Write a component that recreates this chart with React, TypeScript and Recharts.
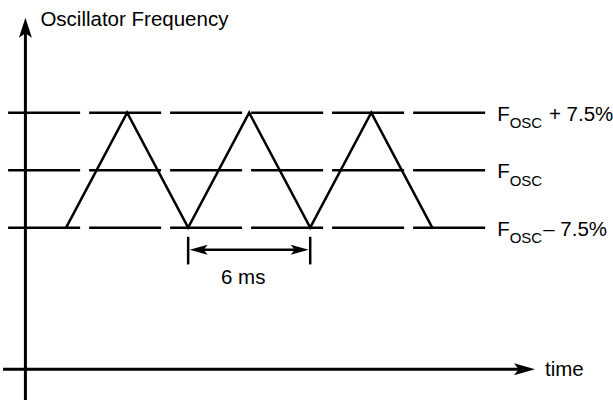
import React from 'react';
import { ComposedChart, Line, XAxis, YAxis, ReferenceLine } from 'recharts';

// time in ms, frequency offset from F_OSC in %
const sweepTimes = [2, 5, 8, 11, 14, 17, 20];
const sweepValues = [-7.5, 7.5, -7.5, 7.5, -7.5, 7.5, -7.5];
const levelValues = [7.5, 0, -7.5];
const levelSuffixes = [' + 7.5%', '', '\u2013 7.5%'];
const periodStart = 8;
const periodEnd = 14;
const periodLabel = '6 ms';
const yAxisTitle = 'Oscillator Frequency';
const xAxisTitle = 'time';

const timeDomain = [-1.2, 28];
const freqDomain = [-30, 20];
const levelExtent = [-0.85, 22.6];
const timeAxisExtent = [-1.1, 25.05];
const freqAxisExtent = [-30, 19.9];
const periodBarLevel = -10.4;
const periodTickExtent = [-8.7, -12.3];

const FONT = '"Liberation Sans", Arial, Helvetica, sans-serif';
const INK = '#000';

const data = sweepTimes.map((t, i) => ({ t, f: sweepValues[i] }));

// barbed arrow head, tip at (x, y), pointing along (dx, dy)
const arrowHead = (x: number, y: number, dx: number, dy: number, len: number, half: number) => {
  const bx = x - dx * len;
  const by = y - dy * len;
  const nx = -dy;
  const ny = dx;
  const n = len * 0.78;
  return `${x},${y} ${bx + nx * half},${by + ny * half} ${x - dx * n},${y - dy * n} ${bx - nx * half},${by - ny * half}`;
};

const YAxisShape = (p: any) => {
  const { x1, y1, x2, y2 } = p;
  return (
    <g>
      <line x1={x1} y1={y1} x2={x2} y2={y2 + 10} stroke={INK} strokeWidth={3} />
      <polygon points={arrowHead(x2, y2, 0, -1, 20, 6.5)} fill={INK} />
      <text x={x2 + 15} y={y2 + 8} fontFamily={FONT} fontSize={20.5} fill={INK}>{yAxisTitle}</text>
    </g>
  );
};

const XAxisShape = (p: any) => {
  const { x1, y1, x2, y2 } = p;
  return (
    <g>
      <line x1={x1} y1={y1} x2={x2 - 10} y2={y2} stroke={INK} strokeWidth={3} />
      <polygon points={arrowHead(x2, y2, 1, 0, 21, 6)} fill={INK} />
      <text x={x2 + 10} y={y2 + 7} fontFamily={FONT} fontSize={20.5} fill={INK}>{xAxisTitle}</text>
    </g>
  );
};

const levelShape = (suffix: string) => (p: any) => {
  const { x1, y1, x2, y2 } = p;
  return (
    <g>
      <line x1={x1} y1={y1} x2={x2} y2={y2} stroke={INK} strokeWidth={2.5} strokeDasharray="72 9" />
      <text x={x2 + 12} y={y2 + 8} fontFamily={FONT} fontSize={20.5} fill={INK}>
        F
        <tspan fontSize={15} dy={7.5}>OSC</tspan>
        {suffix ? <tspan fontSize={20.5} dy={-7.5} dx={1}>{suffix}</tspan> : null}
      </text>
    </g>
  );
};

const PeriodShape = (p: any) => {
  const { x1, y1, x2, y2 } = p;
  return (
    <g>
      <line x1={x1 + 10} y1={y1} x2={x2 - 10} y2={y2} stroke={INK} strokeWidth={2.5} />
      <polygon points={arrowHead(x1 + 1.5, y1, -1, 0, 18, 5)} fill={INK} />
      <polygon points={arrowHead(x2 - 1.5, y2, 1, 0, 18, 5)} fill={INK} />
      <text x={(x1 + x2) / 2 - 6} y={y1 + 34} textAnchor="middle" fontFamily={FONT} fontSize={20.5} fill={INK}>
        {periodLabel}
      </text>
    </g>
  );
};

export default function App() {
  return (
    <div style={{ position: 'absolute', left: 0, top: 0, width: 613, height: 405, background: '#fff' }}>
      <ComposedChart width={613} height={405} data={data} margin={{ top: 17, right: 18, bottom: 5, left: 1 }}>
        <XAxis type="number" dataKey="t" domain={timeDomain} hide allowDataOverflow />
        <YAxis type="number" domain={freqDomain} hide allowDataOverflow />

        {levelValues.map((v, i) => (
          <ReferenceLine
            key={v}
            segment={[{ x: levelExtent[0], y: v }, { x: levelExtent[1], y: v }]}
            shape={levelShape(levelSuffixes[i])}
          />
        ))}

        <ReferenceLine
          segment={[{ x: 0, y: freqAxisExtent[0] }, { x: 0, y: freqAxisExtent[1] }]}
          shape={YAxisShape}
        />
        <ReferenceLine
          segment={[{ x: timeAxisExtent[0], y: -26 }, { x: timeAxisExtent[1], y: -26 }]}
          shape={XAxisShape}
        />

        {[periodStart, periodEnd].map((t) => (
          <ReferenceLine
            key={t}
            segment={[{ x: t, y: periodTickExtent[0] }, { x: t, y: periodTickExtent[1] }]}
            stroke={INK}
            strokeWidth={2.5}
          />
        ))}
        <ReferenceLine
          segment={[{ x: periodStart, y: periodBarLevel }, { x: periodEnd, y: periodBarLevel }]}
          shape={PeriodShape}
        />

        <Line
          type="linear"
          dataKey="f"
          stroke={INK}
          strokeWidth={2.5}
          dot={false}
          activeDot={false}
          isAnimationActive={false}
        />
      </ComposedChart>
    </div>
  );
}
